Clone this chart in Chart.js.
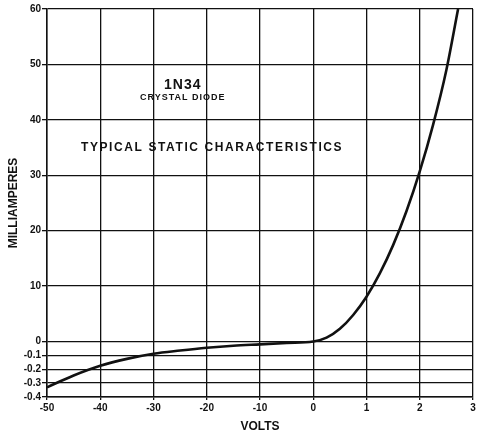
<!DOCTYPE html>
<html>
<head>
<meta charset="utf-8">
<script src="https://cdn.jsdelivr.net/npm/chart.js@4"></script>
<style>
  html, body { margin: 0; padding: 0; background: #fff; }
  #wrap { width: 478px; height: 434px; }
</style>
</head>
<body>
<div id="wrap"><canvas id="chart1" width="478" height="434"></canvas></div>
<script>
// 1N34 crystal diode, typical static characteristics

const volts = [-50, -45, -40, -35, -30, -25, -20, -15, -10, -5, 0,
               0.25, 0.5, 0.75, 1, 1.25, 1.5, 1.75, 2, 2.25, 2.5, 2.72];
const milliamps = [-0.33, -0.245, -0.175, -0.125, -0.088, -0.065, -0.045, -0.03, -0.02, -0.01, 0,
                   0.7, 2.3, 4.8, 8.1, 12.3, 17.4, 23.5, 30.7, 39.1, 49, 60];

const xTicks = [-50, -40, -30, -20, -10, 0, 1, 2, 3];
const yTicks = [-0.4, -0.3, -0.2, -0.1, 0, 10, 20, 30, 40, 50, 60];

// the sheet uses two scales on each axis: squash them onto one linear scale
function xPos(v) { return v <= 0 ? v / 10 : v; }
function yPos(i) { return i >= 0 ? i / 10 : i * 2.5; }

function tickLabel(list, fn) {
  return function (value) {
    const hit = list.find(t => Math.abs(fn(t) - value) < 1e-6);
    return hit === undefined ? '' : String(hit);
  };
}

const curve = volts.map((v, k) => ({ x: xPos(v), y: yPos(milliamps[k]) }));

const FONT = "'Liberation Sans', 'DejaVu Sans', sans-serif";

const textPlugin = {
  id: 'sheetText',
  afterDraw(chart) {
    const ctx = chart.ctx;
    const xs = chart.scales.x, ys = chart.scales.y;
    ctx.save();
    ctx.fillStyle = '#111';
    ctx.textAlign = 'center';
    ctx.textBaseline = 'middle';
    ctx.font = 'bold 14px ' + FONT;
    ctx.letterSpacing = '1px';
    ctx.fillText('1N34', xs.getPixelForValue(-2.45), ys.getPixelForValue(4.63));
    ctx.font = 'bold 9px ' + FONT;
    ctx.letterSpacing = '1px';
    ctx.fillText('CRYSTAL DIODE', xs.getPixelForValue(-2.45), ys.getPixelForValue(4.4));
    ctx.font = 'bold 12px ' + FONT;
    ctx.letterSpacing = '1.6px';
    ctx.fillText('TYPICAL STATIC CHARACTERISTICS', xs.getPixelForValue(-1.9), ys.getPixelForValue(3.5));
    ctx.restore();
  }
};

const ctx = document.getElementById('chart1').getContext('2d');

new Chart(ctx, {
  type: 'line',
  data: {
    datasets: [{
      data: curve,
      borderColor: '#111',
      borderWidth: 2.6,
      pointRadius: 0,
      cubicInterpolationMode: 'monotone',
      fill: false
    }]
  },
  options: {
    responsive: false,
    animation: false,
    layout: { padding: { top: 9, right: 5, left: 0, bottom: 0 } },
    plugins: { legend: { display: false }, tooltip: { enabled: false } },
    scales: {
      x: {
        type: 'linear',
        min: xPos(xTicks[0]),
        max: xPos(xTicks[xTicks.length - 1]),
        afterBuildTicks(scale) { scale.ticks = xTicks.map(t => ({ value: xPos(t) })); },
        afterFit(scale) { scale.height = 37; },
        ticks: {
          callback: tickLabel(xTicks, xPos),
          color: '#111',
          font: { family: FONT, size: 10, weight: 'bold' },
          padding: 2,
          maxRotation: 0,
          autoSkip: false
        },
        grid: { color: '#111', lineWidth: 1.3, tickLength: 3 },
        border: { color: '#111', width: 1.5 },
        title: {
          display: true,
          text: 'VOLTS',
          color: '#111',
          font: { family: FONT, size: 12, weight: 'bold' },
          padding: { top: 2, bottom: 0 }
        }
      },
      y: {
        type: 'linear',
        min: yPos(yTicks[0]),
        max: yPos(yTicks[yTicks.length - 1]),
        afterBuildTicks(scale) { scale.ticks = yTicks.map(t => ({ value: yPos(t) })); },
        afterFit(scale) { scale.width = 47; },
        ticks: {
          callback: tickLabel(yTicks, yPos),
          color: '#111',
          font: { family: FONT, size: 10, weight: 'bold' },
          padding: 1,
          autoSkip: false
        },
        grid: { color: '#111', lineWidth: 1.3, tickLength: 5 },
        border: { color: '#111', width: 1.5 },
        title: {
          display: true,
          text: 'MILLIAMPERES',
          color: '#111',
          font: { family: FONT, size: 12, weight: 'bold' },
          padding: { top: 6, bottom: 0 }
        }
      }
    }
  },
  plugins: [textPlugin]
});
</script>
</body>
</html>
